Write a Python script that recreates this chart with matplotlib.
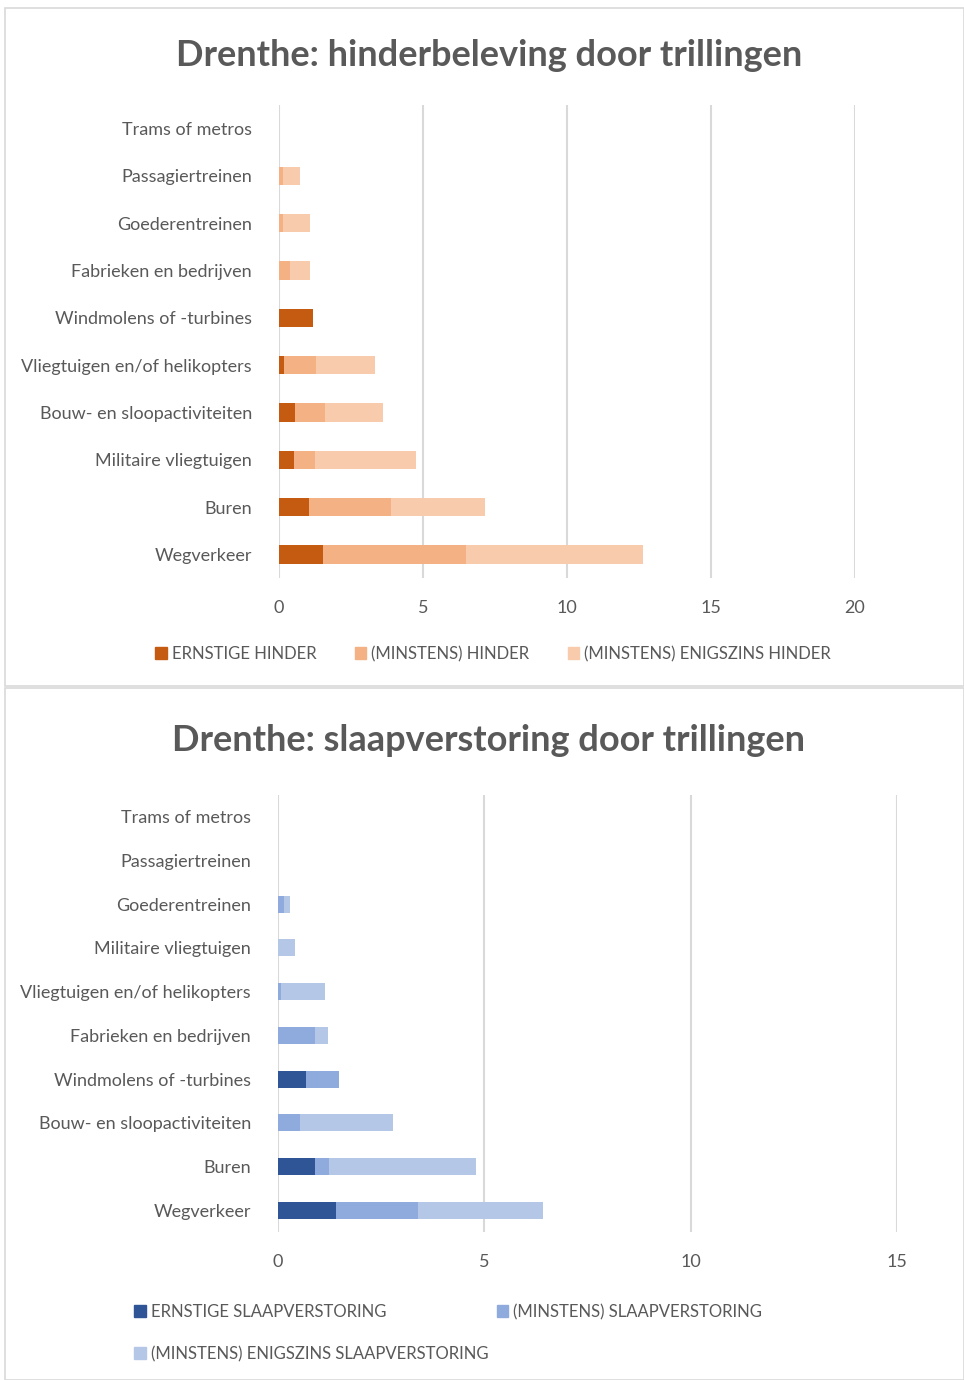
import matplotlib.pyplot as plt
from matplotlib.patches import Rectangle, Patch

plt.rcParams['font.family'] = ['Lato', 'DejaVu Sans']

# hinder (cumulative values, %)
hinder_cats = ['Wegverkeer', 'Buren', 'Militaire vliegtuigen', 'Bouw- en sloopactiviteiten',
               'Vliegtuigen en/of helikopters', 'Windmolens of -turbines', 'Fabrieken en bedrijven',
               'Goederentreinen', 'Passagiertreinen', 'Trams of metros']
hinder_ernstig = [1.52, 1.03, 0.51, 0.56, 0.16, 1.17, 0.0, 0.0, 0.0, 0.0]
hinder_minstens = [6.48, 3.88, 1.25, 1.58, 1.27, 0.0, 0.38, 0.14, 0.14, 0.0]
hinder_enigszins = [12.64, 7.15, 4.76, 3.61, 3.35, 0.0, 1.08, 1.06, 0.73, 0.0]
hinder_labels = ['ERNSTIGE HINDER', '(MINSTENS) HINDER', '(MINSTENS) ENIGSZINS HINDER']

# slaapverstoring (cumulative values, %)
slaap_cats = ['Wegverkeer', 'Buren', 'Bouw- en sloopactiviteiten', 'Windmolens of -turbines',
              'Fabrieken en bedrijven', 'Vliegtuigen en/of helikopters', 'Militaire vliegtuigen',
              'Goederentreinen', 'Passagiertreinen', 'Trams of metros']
slaap_ernstig = [1.40, 0.90, 0.0, 0.68, 0.0, 0.0, 0.0, 0.0, 0.0, 0.0]
slaap_minstens = [3.39, 1.23, 0.53, 1.48, 0.89, 0.07, 0.0, 0.145, 0.0, 0.0]
slaap_enigszins = [6.42, 4.79, 2.79, 0.0, 1.22, 1.14, 0.41, 0.30, 0.0, 0.0]
slaap_labels = ['ERNSTIGE SLAAPVERSTORING', '(MINSTENS) SLAAPVERSTORING',
                '(MINSTENS) ENIGSZINS SLAAPVERSTORING']

oranje = ['#C55A11', '#F4B183', '#F8CBAD']
blauw = ['#2F5597', '#8FAADC', '#B4C7E7']
TXT = '#595959'
GRID = '#D9D9D9'
FS = 13
LFS = 12

fig = plt.figure(figsize=(9.64, 13.8), dpi=100)

# panel borders
fig.patches.append(Rectangle((5/964, 1-686/1380), 959/964, 678/1380, transform=fig.transFigure,
                             fill=False, edgecolor=GRID, lw=1.2))
fig.patches.append(Rectangle((5/964, 0), 959/964, 692/1380, transform=fig.transFigure,
                             fill=False, edgecolor=GRID, lw=1.2))


def draw(ax, cats, series, colors, xmax, step):
    y = range(len(cats))
    # overlapping bars: largest series first
    for vals, c in zip(series[::-1], colors[::-1]):
        ax.barh(y, vals, height=0.39, color=c, zorder=3)
    ax.set_xlim(0, xmax)
    ax.set_ylim(-0.5, len(cats) - 0.5)
    ax.set_xticks(range(0, xmax + 1, step))
    ax.set_yticks(list(y))
    ax.set_yticklabels(cats)
    ax.grid(axis='x', color=GRID, lw=1.5, zorder=0)
    for s in ax.spines.values():
        s.set_visible(False)
    ax.tick_params(length=0, colors=TXT, labelsize=FS)
    ax.tick_params(axis='y', pad=19.5)
    ax.tick_params(axis='x', pad=15.5)


ax1 = fig.add_axes([279/964, 1-578/1380, 576/964, 473/1380])
draw(ax1, hinder_cats, [hinder_ernstig, hinder_minstens, hinder_enigszins], oranje, 20, 5)
fig.text(489/964, 1-55/1380, 'Drenthe: hinderbeleving door trillingen', ha='center', va='center',
         fontsize=26, fontweight='bold', color=TXT)
h1 = [Patch(color=c) for c in oranje]
fig.legend(h1, hinder_labels, loc='center', bbox_to_anchor=(493/964, 1-654/1380), ncol=3,
           frameon=False, fontsize=LFS, labelcolor=TXT, handlelength=0.7, handleheight=0.7,
           handletextpad=0.3, columnspacing=2.3)

ax2 = fig.add_axes([278/964, 1-1232/1380, 619/964, 437/1380])
draw(ax2, slaap_cats, [slaap_ernstig, slaap_minstens, slaap_enigszins], blauw, 15, 5)
fig.text(489/964, 1-740/1380, 'Drenthe: slaapverstoring door trillingen', ha='center', va='center',
         fontsize=26, fontweight='bold', color=TXT)
h2 = [Patch(color=c) for c in blauw]
order = [0, 2, 1]
fig.legend([h2[i] for i in order], [slaap_labels[i] for i in order], loc='upper left',
           bbox_to_anchor=(119/964, 1-1289/1380), ncol=2, frameon=False, fontsize=LFS,
           labelcolor=TXT, handlelength=0.7, handleheight=0.7, handletextpad=0.3,
           columnspacing=0.5, labelspacing=1.55)

fig.savefig('out.png', dpi=100)
